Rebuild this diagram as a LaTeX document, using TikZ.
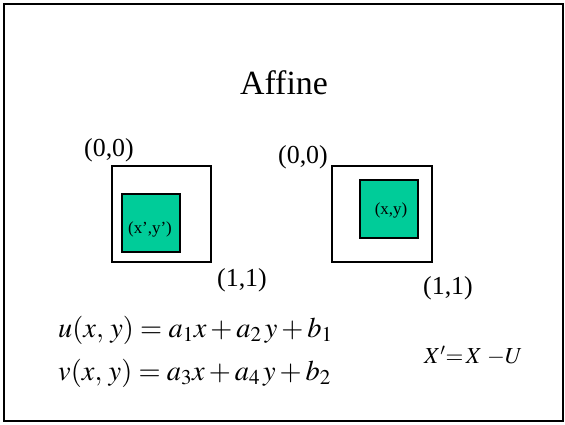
\documentclass[tikz,border=0pt]{standalone}
\usepackage{mathptmx}
\usepackage{fontspec}
\setmainfont{Liberation Serif}
\usepackage{tikz}
\usetikzlibrary{positioning}
\definecolor{tealfill}{RGB}{0,204,153}
\tikzset{
  frame/.style  = {rectangle, draw, line width=2bp, fill=white, inner sep=0pt},
  patch/.style  = {rectangle, draw, line width=2bp, fill=tealfill, inner sep=0pt},
  corner/.style = {font=\fontsize{26}{30}\selectfont, inner sep=0pt},
  ptlabel/.style = {font=\fontsize{17}{20}\selectfont, inner sep=0pt},
  eqn/.style    = {font=\fontsize{28.5}{32}\selectfont, inner sep=0pt, anchor=west},
}
\begin{document}
\begin{tikzpicture}[x=1bp, y=-1bp]
  \useasboundingbox (0,0) rectangle (565,424);
  \draw[line width=2bp] (4,4) rectangle (563,421);

  \node[font=\fontsize{34}{40}\selectfont, inner sep=0pt] (title) at (284,83) {Affine};

  % left image: transformed patch
  \node[frame, minimum width=99bp, minimum height=96bp] (outL) at (161.5,214) {};
  \node[patch, minimum width=58bp, minimum height=58bp] (inL) at (151,223) {};
  \node[ptlabel] (ptL) at (150,229) {(x',y')};
  \node[corner] (tlL) at (109,150) {(0,0)};
  \node[corner] (brL) at (242,280) {(1,1)};

  % right image: source patch
  \node[frame, minimum width=100bp, minimum height=96bp] (outR) at (382,214) {};
  \node[patch, minimum width=58bp, minimum height=58bp] (inR) at (389,209) {};
  \node[ptlabel] (ptR) at (391,210) {(x,y)};
  \node[corner] (tlR) at (303,157) {(0,0)};
  \node[corner] (brR) at (448,288) {(1,1)};

  % equations
  \node[eqn] (equ) at (58,330) {$u(x,\,y) = a_1x + a_2\,y + b_1$};
  \node[eqn] (eqv) at (58,373) {$v(x,\,y) = a_3x + a_4\,y + b_2$};
  \node[eqn, font=\fontsize{23}{26}\selectfont] (eqx) at (424,356) {$X'{=}\,X\;{-}U$};
\end{tikzpicture}
\end{document}
